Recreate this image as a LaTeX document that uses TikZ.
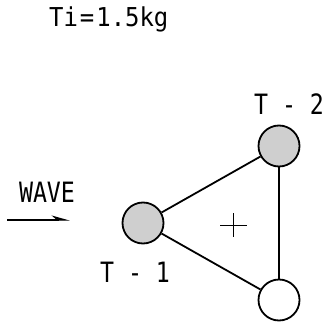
\documentclass[tikz,border=0pt]{standalone}
\usepackage{fontspec}
\setmainfont{DejaVu Sans Mono}
\newfontfamily\labfont[FakeStretch=0.83]{DejaVu Sans Mono}
\newfontfamily\topfont[FakeStretch=0.92]{DejaVu Sans Mono}
\usetikzlibrary{arrows.meta}
\begin{document}
\begin{tikzpicture}[x=1pt,y=-1pt,
  buoy/.style={circle,draw,line width=1.8pt,minimum size=41pt,inner sep=0pt,fill=white},
  shaded/.style={buoy,fill=gray!38},
  lbl/.style={font=\labfont\fontsize{28}{28}\selectfont,inner sep=0pt},
  link/.style={line width=1.8pt}]
\useasboundingbox (0,0) rectangle (323,323);
\node[font=\topfont\fontsize{26}{26}\selectfont,inner sep=0pt,anchor=base west] (title) at (49,27) {Ti\hspace{2pt}=\hspace{2pt}1.5kg};
\node[shaded] (T1) at (143,223) {};
\node[shaded] (T2) at (279,146) {};
\node[buoy] (T3) at (279,300) {};
\draw[link] (T1) -- (T2);
\draw[link] (T2) -- (T3);
\draw[link] (T1) -- (T3);
\node[lbl] (l1) at (135,272) {T - 1};
\node[lbl] (l2) at (289,104) {T - 2};
\node[lbl] (wave) at (47,192) {WAVE};
\coordinate (w0) at (7,220);
\coordinate (w1) at (70,220);
\draw[line width=1.3pt,-{Stealth[harpoon,length=16pt,width=9pt]}] (w0) -- (w1);
\coordinate (cg) at (233,225);
\draw[line width=0.8pt] (cg) ++(-13,0) -- ++(27,0);
\draw[line width=0.8pt] (cg) ++(0,-12) -- ++(0,24);
\end{tikzpicture}
\end{document}
